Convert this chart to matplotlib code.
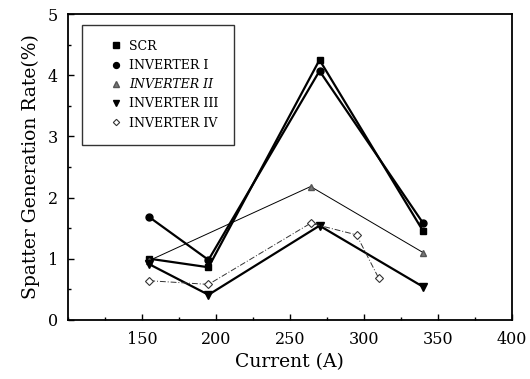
import matplotlib
matplotlib.use("Agg")
import matplotlib.pyplot as plt
from matplotlib.ticker import MultipleLocator, FixedLocator

plt.rcParams["font.family"] = ["DejaVu Serif"]

# Welding current (A) and spatter generation rate (%) for each power source
scr_x = [155, 195, 270, 340]
scr_y = [1.00, 0.86, 4.25, 1.45]

inv1_x = [155, 195, 270, 340]
inv1_y = [1.68, 0.98, 4.07, 1.58]

inv2_x = [155, 264, 340]
inv2_y = [0.97, 2.18, 1.10]

inv3_x = [155, 195, 270, 340]
inv3_y = [0.91, 0.41, 1.54, 0.54]

inv4_x = [155, 195, 264, 295, 310]
inv4_y = [0.64, 0.58, 1.58, 1.39, 0.68]

x_ticks = [150, 200, 250, 300, 350, 400]
y_ticks = [0, 1, 2, 3, 4, 5]

fig = plt.figure(figsize=(5.30, 3.79), dpi=100)
ax = fig.add_axes([0.128, 0.156, 0.838, 0.807])

ax.plot(scr_x, scr_y, color="black", lw=1.6, marker="s", ms=5, label="SCR")
ax.plot(inv1_x, inv1_y, color="black", lw=1.6, marker="o", ms=5, label="INVERTER I")
ax.plot(inv2_x, inv2_y, color="black", lw=0.7, marker="^", ms=4.5,
        mfc="#777777", mec="#555555", label="INVERTER II")
ax.plot(inv3_x, inv3_y, color="black", lw=1.6, marker="v", ms=5.5, label="INVERTER III")
ax.plot(inv4_x, inv4_y, color="#333333", lw=0.7, ls=(0, (6, 2, 1, 2)), marker="D", ms=3.8,
        mfc="white", mec="#333333", mew=0.8, label="INVERTER IV")

ax.set_xlim(100, 400)
ax.set_ylim(0, 5)
ax.xaxis.set_major_locator(FixedLocator(x_ticks))
ax.xaxis.set_minor_locator(MultipleLocator(25))
ax.yaxis.set_major_locator(FixedLocator(y_ticks))
ax.yaxis.set_minor_locator(MultipleLocator(0.5))
ax.tick_params(which="both", direction="in", top=False, right=False, labelsize=11.5)
ax.tick_params(which="major", length=4, width=1)
ax.tick_params(which="minor", length=2.5, width=1)
ax.tick_params(axis="x", which="major", pad=8)
ax.tick_params(axis="y", which="major", pad=7)
for s in ax.spines.values():
    s.set_linewidth(1.3)

ax.set_xlabel("Current (A)", fontsize=13.5, labelpad=4)
ax.set_ylabel("Spatter Generation Rate(%)", fontsize=13.5, labelpad=6)

leg = ax.legend(loc="upper left", bbox_to_anchor=(0.033, 0.965), frameon=True, fancybox=False,
                edgecolor="black", fontsize=9, handlelength=3.0, handletextpad=-0.45,
                borderpad=1.2, labelspacing=0.5, borderaxespad=0, markerscale=0.85)
leg.get_frame().set_linewidth(1.0)
for h in leg.legend_handles:
    h.set_linestyle("none")
leg.get_texts()[2].set_style("italic")

fig.savefig("out.png", dpi=100)
